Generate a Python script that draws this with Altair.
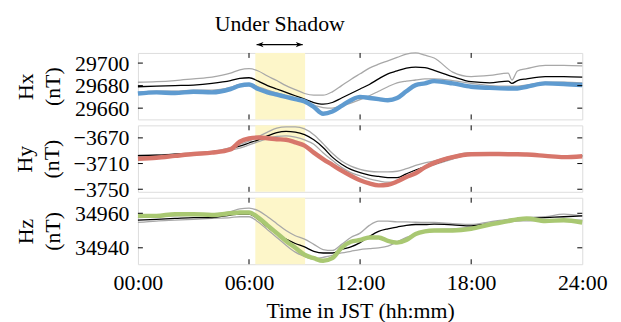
import altair as alt
import pandas as pd

FONT = "Liberation Serif"
FS = 22
W, H = 448, 67

hours = [0, 1, 2, 3, 4, 5, 5.5, 6, 6.5, 7, 7.5, 8, 8.5, 9, 9.5, 10, 10.5, 11, 11.5, 12,
         12.5, 13, 13.5, 14, 14.5, 15, 15.5, 16, 17, 18, 19, 20, 20.2, 20.5, 21, 22, 23, 24]

# Hx (nT)
hx_obs = [29673, 29674, 29673.5, 29674.5, 29674, 29677, 29680, 29681, 29677, 29674, 29672, 29670,
          29668, 29666, 29661, 29655, 29657, 29662, 29667, 29670, 29669, 29668, 29667, 29669,
          29675, 29680.5, 29682, 29684, 29682, 29679, 29678, 29677.5, 29677.5, 29677.5, 29679,
          29682, 29681.5, 29680.5]
hx_ref = [29679, 29679.5, 29680, 29680.5, 29682, 29684.5, 29686.5, 29687, 29684, 29680, 29677,
          29674, 29671, 29668, 29665, 29663.5, 29665, 29669, 29673, 29677, 29681, 29686, 29690.5,
          29693, 29695.5, 29696.5, 29696, 29693.5, 29688, 29683.5, 29682.5, 29684, 29682,
          29684.5, 29686, 29688, 29688, 29687.5]
hx_up = [29683, 29683.5, 29684.5, 29686, 29687.5, 29691, 29694, 29695, 29693, 29688.5, 29684.5,
         29680, 29676.5, 29673, 29671.5, 29671.5, 29674.5, 29680, 29685.5, 29690.5, 29695.5, 29699,
         29702, 29705, 29708, 29709, 29707, 29704.5, 29692, 29688, 29689, 29691, 29685, 29693,
         29695, 29698, 29698, 29697.5]
hx_lo = [29674, 29675, 29675, 29676, 29676, 29678.5, 29681, 29681.5, 29679, 29676, 29673.5,
         29671, 29668, 29665, 29662.5, 29660.5, 29660, 29662, 29664.5, 29667.5, 29671, 29675,
         29679, 29682.5, 29684, 29685, 29686, 29686, 29684.5, 29682, 29680, 29679.5, 29679.5,
         29679.5, 29680.5, 29683, 29683, 29682.5]

# Hy (nT)
hy_obs = [-3702.5, -3701, -3698, -3695, -3693, -3688, -3676, -3671, -3669.5, -3670.5, -3672,
          -3673, -3677, -3682, -3693, -3703, -3712, -3721, -3729, -3736, -3741, -3744, -3743,
          -3738, -3731, -3725, -3716, -3709, -3700, -3695.5, -3695, -3695.5, -3695.5, -3695.5,
          -3696, -3698, -3700, -3698.5]
hy_ref = [-3697.5, -3697, -3695.5, -3694, -3692, -3687, -3683, -3678, -3673, -3667, -3662, -3660,
          -3661, -3665, -3673, -3685, -3700, -3711, -3719, -3724, -3728, -3730, -3732, -3732,
          -3726, -3720, -3715, -3711, -3701, -3695, -3695, -3695.5, -3695.5, -3695.5, -3696,
          -3697.5, -3699, -3698]
hy_up = [-3697, -3696.5, -3695, -3693.5, -3691, -3685, -3680, -3675, -3668, -3661, -3655, -3653,
         -3653, -3656, -3665, -3679, -3694, -3706, -3714, -3719, -3722, -3723, -3723, -3722,
         -3718, -3713, -3709, -3706, -3698, -3693, -3694, -3694.5, -3695, -3695, -3695.5, -3697,
         -3698.5, -3698]
hy_lo = [-3699, -3698, -3696.5, -3695, -3693, -3689, -3686, -3681, -3676, -3671, -3667.5, -3667,
         -3669, -3673, -3680, -3693, -3705, -3716, -3724, -3729, -3734, -3737, -3739, -3738,
         -3730, -3723, -3716, -3712, -3703, -3696, -3695, -3695.5, -3695.5, -3695.5, -3696,
         -3697.5, -3699, -3698.5]

# Hz (nT)
hz_obs = [34958.5, 34958.5, 34959.5, 34959.5, 34959, 34960, 34960.5, 34960.5, 34957.5, 34953,
          34948.5, 34944, 34940, 34936, 34934, 34932.5, 34934, 34940, 34943.5, 34944.5, 34946,
          34946, 34944, 34943, 34944.5, 34948, 34949.5, 34950, 34950, 34951, 34953.5, 34955.5,
          34956, 34956.5, 34957, 34955.5, 34956, 34954.7]
hz_ref = [34956, 34956.5, 34957, 34957.5, 34957.5, 34959, 34959.5, 34959.5, 34956.5, 34952, 34948,
          34945, 34942.5, 34940.5, 34938, 34937, 34937, 34939, 34940.5, 34943, 34946.5, 34949.5,
          34951, 34952, 34953, 34953.5, 34953.5, 34953.7, 34953.3, 34952.7, 34954, 34955.5,
          34955.7, 34956, 34957, 34957.5, 34958, 34958.5]
hz_up = [34957.5, 34958, 34958.5, 34959, 34959.5, 34961, 34962.5, 34963, 34961.5, 34958, 34954,
         34950, 34947, 34945, 34942, 34939, 34938.5, 34942, 34946, 34948.5, 34953, 34955.5,
         34955.5, 34955, 34955, 34954.8, 34954.7, 34954.7, 34954, 34953.5, 34955, 34956.5,
         34956.7, 34957, 34957.5, 34958, 34959.5, 34958.5]
hz_lo = [34954.7, 34955.5, 34956, 34956.5, 34957, 34957.5, 34958, 34958, 34955, 34950.5, 34946,
         34941.5, 34937.5, 34935, 34933.5, 34934.5, 34935.6, 34937, 34938, 34939, 34939.5, 34940,
         34941, 34943.5, 34946, 34948, 34949.5, 34950.5, 34951, 34952, 34953.5, 34955, 34955.2,
         34955.5, 34955.6, 34956, 34956, 34956]

shadow_start, shadow_end = 6.34, 9.03
arrow_start, arrow_end = 6.41, 8.9
label_center = 7.66
x_ticks = [0, 6, 12, 18, 24]
inner_x_ticks = [6, 12, 18]

panels = [
    dict(obs=hx_obs, ref=hx_ref, up=hx_up, lo=hx_lo, dom=[29650, 29709],
         ticks=[29660, 29680, 29700], color="#5f9bd0", title=["Hx", "(nT)"]),
    dict(obs=hy_obs, ref=hy_ref, up=hy_up, lo=hy_lo, dom=[-3754, -3650.5],
         ticks=[-3750, -3710, -3670], color="#d7766b", title=["Hy", "(nT)"]),
    dict(obs=hz_obs, ref=hz_ref, up=hz_up, lo=hz_lo, dom=[34930.5, 34969],
         ticks=[34940, 34960], color="#a9c872", title=["Hz", "(nT)"]),
]

xscale = alt.Scale(domain=[0, 24], nice=False, zero=False)


def make_panel(p, bottom, top):
    yscale = alt.Scale(domain=p["dom"], nice=False, zero=False)
    df = pd.DataFrame({"hour": hours, "obs": p["obs"], "ref": p["ref"],
                       "up": p["up"], "lo": p["lo"]})
    if bottom:
        xaxis = alt.Axis(values=x_ticks, labelExpr="(datum.value < 10 ? '0' : '') + datum.value + ':00'",
                         ticks=False, tickSize=0, domain=False, grid=False, labelFont=FONT,
                         labelFontSize=FS, labelPadding=8, labelColor="black", labelFlush=False,
                         labelOverlap=False,
                         title="Time in JST (hh:mm)", titleFont=FONT, titleFontSize=FS,
                         titleFontWeight="normal", titleColor="black", titlePadding=8)
    else:
        xaxis = None
    yaxis = alt.Axis(values=p["ticks"], format="d", ticks=False, tickSize=0, domain=False,
                     grid=False, labelFont=FONT, labelFontSize=FS, labelPadding=9,
                     labelColor="black", labelFlush=False, labelOverlap=False,
                     title=p["title"], titleFont=FONT, titleFontSize=FS,
                     titleFontWeight="normal", titleColor="black", titleLineHeight=27,
                     titlePadding=10)

    shade = alt.Chart(pd.DataFrame({"s": [shadow_start], "e": [shadow_end]})).mark_rect(
        color="#fdf6c9").encode(x=alt.X("s:Q", scale=xscale, axis=xaxis), x2="e:Q",
                                y=alt.value(0), y2=alt.value(H))
    base = alt.Chart(df)

    def line(field, color, sw):
        return base.mark_line(color=color, strokeWidth=sw, interpolate="monotone").encode(
            x=alt.X("hour:Q", scale=xscale, axis=xaxis),
            y=alt.Y(f"{field}:Q", scale=yscale, axis=yaxis))

    gu = line("up", "#a8a8a8", 1.3)
    gl = line("lo", "#a8a8a8", 1.3)
    bl = line("ref", "black", 1.3)
    ob = line("obs", p["color"], 4.5)

    ydf = pd.DataFrame({"v": p["ticks"]})
    ytl = alt.Chart(ydf).mark_rule(color="black", strokeWidth=1).encode(
        y=alt.Y("v:Q", scale=yscale, axis=yaxis), x=alt.value(0), x2=alt.value(5))
    ytr = alt.Chart(ydf).mark_rule(color="black", strokeWidth=1).encode(
        y=alt.Y("v:Q", scale=yscale, axis=yaxis), x=alt.value(W - 5), x2=alt.value(W))
    xdf = pd.DataFrame({"h": inner_x_ticks})
    xtt = alt.Chart(xdf).mark_rule(color="black", strokeWidth=1).encode(
        x=alt.X("h:Q", scale=xscale, axis=xaxis), y=alt.value(0), y2=alt.value(5))
    xtb = alt.Chart(xdf).mark_rule(color="black", strokeWidth=1).encode(
        x=alt.X("h:Q", scale=xscale, axis=xaxis), y=alt.value(H - 5), y2=alt.value(H))

    layers = [shade, gu, gl, bl, ob, ytl, ytr, xtt, xtb]
    if top:
        ann = pd.DataFrame({"a": [arrow_start], "b": [arrow_end],
                            "c": [label_center], "label": ["Under Shadow"]})
        ac = alt.Chart(ann)
        txt = ac.mark_text(font=FONT, fontSize=FS, color="black", baseline="alphabetic",
                           align="center").encode(
            x=alt.X("c:Q", scale=xscale, axis=xaxis), y=alt.value(-22.5), text="label:N")
        shaft = ac.mark_rule(color="black", strokeWidth=1.3).encode(
            x=alt.X("a:Q", scale=xscale, axis=xaxis), x2="b:Q", y=alt.value(-8.5))
        lh = ac.mark_point(shape="M0,0L1,-0.38L0.72,0L1,0.38Z", size=196, filled=True,
                           color="black", opacity=1).encode(
            x=alt.X("a:Q", scale=xscale, axis=xaxis), y=alt.value(-8.5))
        rh = ac.mark_point(shape="M0,0L-1,-0.38L-0.72,0L-1,0.38Z", size=196, filled=True,
                           color="black", opacity=1).encode(
            x=alt.X("b:Q", scale=xscale, axis=xaxis), y=alt.value(-8.5))
        layers += [txt, shaft, lh, rh]
    return alt.layer(*layers).properties(width=W, height=H)


charts = [make_panel(p, i == 2, i == 0) for i, p in enumerate(panels)]
chart = alt.vconcat(*charts, spacing=6, bounds="flush").resolve_scale(y="independent").properties(
    padding={"left": 5, "top": 3, "right": 5, "bottom": 5}
).configure_view(stroke="black", strokeWidth=1.2).configure(background="white")

chart.save("out.html", embed_options={"renderer": "svg", "actions": False})
